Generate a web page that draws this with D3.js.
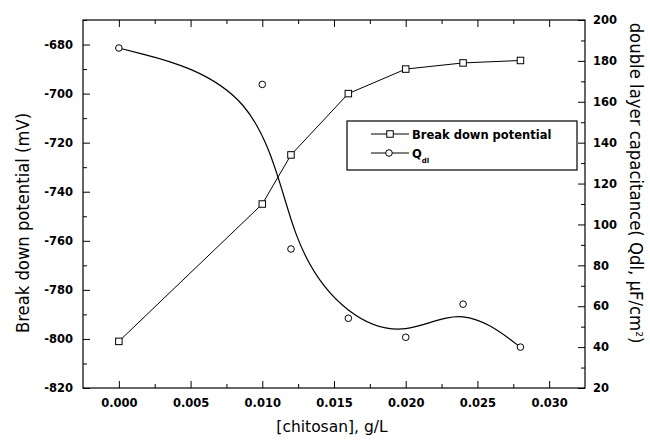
<!DOCTYPE html>
<html>
<head>
<meta charset="utf-8">
<script src="https://cdn.jsdelivr.net/npm/d3@7/dist/d3.min.js"></script>
<style>
  html, body { margin: 0; padding: 0; background: #fff; }
  #chart { width: 650px; height: 440px; }
  text { font-family: "DejaVu Sans", sans-serif; fill: #000; }
</style>
</head>
<body>
<div id="chart"></div>
<script>
// chitosan concentration vs break down potential / Qdl
const chitosan = [0.000, 0.010, 0.012, 0.016, 0.020, 0.024, 0.028];
const breakdown = [-801, -745, -725, -700, -690, -687.5, -686.5];
const qdl = [186.3, 168.5, 88, 54.1, 44.8, 61.0, 40.0];

const xTicks = [0.000, 0.005, 0.010, 0.015, 0.020, 0.025, 0.030];
const xMinor = [0.0025, 0.0075, 0.0125, 0.0175, 0.0225, 0.0275];
const yLeftTicks = [-820, -800, -780, -760, -740, -720, -700, -680];
const yLeftMinor = [-810, -790, -770, -750, -730, -710, -690, -670];
const yRightTicks = [20, 40, 60, 80, 100, 120, 140, 160, 180, 200];
const yRightMinor = [30, 50, 70, 90, 110, 130, 150, 170, 190];

const legendNames = ['Break down potential', 'Q'];

const W = 650, H = 440;
const m = { left: 83, right: 585, top: 20, bottom: 388 };

const svg = d3.select('#chart').append('svg')
  .attr('width', W).attr('height', H);

const x = d3.scaleLinear().domain([-0.0025, 0.0325]).range([m.left, m.right]);
const yL = d3.scaleLinear().domain([-820, -670]).range([m.bottom, m.top]);
const yR = d3.scaleLinear().domain([20, 200]).range([m.bottom, m.top]);

const tickFont = g => g.selectAll('text')
  .style('font-family', '"DejaVu Sans", sans-serif')
  .style('font-size', '11.5px').style('font-weight', 'bold').attr('fill', '#000');
const clean = g => { g.select('.domain').remove(); g.selectAll('line').attr('stroke', '#000').attr('stroke-width', 1); };

// bottom
svg.append('g').attr('transform', `translate(0,${m.bottom})`)
  .call(d3.axisBottom(x).tickValues(xTicks).tickSize(-7).tickPadding(11).tickFormat(d => d.toFixed(3)))
  .call(clean).call(tickFont);
svg.append('g').attr('transform', `translate(0,${m.bottom})`)
  .call(d3.axisBottom(x).tickValues(xMinor).tickSize(-4).tickFormat(''))
  .call(clean);
// top
svg.append('g').attr('transform', `translate(0,${m.top})`)
  .call(d3.axisTop(x).tickValues(xTicks).tickSize(-7).tickFormat(''))
  .call(clean);
svg.append('g').attr('transform', `translate(0,${m.top})`)
  .call(d3.axisTop(x).tickValues(xMinor).tickSize(-4).tickFormat(''))
  .call(clean);
// left
svg.append('g').attr('transform', `translate(${m.left},0)`)
  .call(d3.axisLeft(yL).tickValues(yLeftTicks).tickSize(-7).tickPadding(10).tickFormat(d => String(d)))
  .call(clean).call(tickFont);
svg.append('g').attr('transform', `translate(${m.left},0)`)
  .call(d3.axisLeft(yL).tickValues(yLeftMinor).tickSize(-4).tickFormat(''))
  .call(clean);
// right
svg.append('g').attr('transform', `translate(${m.right},0)`)
  .call(d3.axisRight(yR).tickValues(yRightTicks).tickSize(-7).tickPadding(8).tickFormat(d => String(d)))
  .call(clean).call(tickFont);
svg.append('g').attr('transform', `translate(${m.right},0)`)
  .call(d3.axisRight(yR).tickValues(yRightMinor).tickSize(-4).tickFormat(''))
  .call(clean);

// frame
svg.append('rect')
  .attr('x', m.left).attr('y', m.top)
  .attr('width', m.right - m.left).attr('height', m.bottom - m.top)
  .attr('fill', 'none').attr('stroke', '#000').attr('stroke-width', 1.2);

// lines
const bdData = chitosan.map((c, i) => [c, breakdown[i]]);
const qData = chitosan.map((c, i) => [c, qdl[i]]);

svg.append('path').datum(bdData)
  .attr('fill', 'none').attr('stroke', '#000').attr('stroke-width', 1)
  .attr('d', d3.line().x(d => x(d[0])).y(d => yL(d[1])));

svg.append('path').datum(qData)
  .attr('fill', 'none').attr('stroke', '#000').attr('stroke-width', 1.2)
  .attr('d', d3.line().curve(d3.curveBasis).x(d => x(d[0])).y(d => yR(d[1])));

const sq = 6.5;
svg.append('g').selectAll('rect').data(bdData).join('rect')
  .attr('x', d => x(d[0]) - sq / 2).attr('y', d => yL(d[1]) - sq / 2)
  .attr('width', sq).attr('height', sq)
  .attr('fill', '#fff').attr('stroke', '#000').attr('stroke-width', 1);

svg.append('g').selectAll('circle').data(qData).join('circle')
  .attr('cx', d => x(d[0])).attr('cy', d => yR(d[1])).attr('r', 3.3)
  .attr('fill', '#fff').attr('stroke', '#000').attr('stroke-width', 1);

// legend
const lg = svg.append('g');
lg.append('rect').attr('x', 347).attr('y', 121).attr('width', 230).attr('height', 49)
  .attr('fill', '#fff').attr('stroke', '#000').attr('stroke-width', 1.2);
[134, 153].forEach((ly, i) => {
  lg.append('line').attr('x1', 371).attr('x2', 409).attr('y1', ly).attr('y2', ly)
    .attr('stroke', '#000').attr('stroke-width', 1);
  if (i === 0) {
    lg.append('rect').attr('x', 390 - sq / 2).attr('y', ly - sq / 2).attr('width', sq).attr('height', sq)
      .attr('fill', '#fff').attr('stroke', '#000');
  } else {
    lg.append('circle').attr('cx', 389).attr('cy', ly).attr('r', 3.3)
      .attr('fill', '#fff').attr('stroke', '#000');
  }
  const t = lg.append('text').attr('x', 412).attr('y', ly + 4.5)
    .style('font-size', '11.5px').style('font-weight', 'bold').text(legendNames[i]);
  if (i === 1) t.append('tspan').attr('dy', 5).style('font-size', '7px').text('dl');
});

// axis titles
svg.append('text').attr('x', 332).attr('y', 432).attr('text-anchor', 'middle')
  .style('font-size', '15.5px').text('[chitosan], g/L');

svg.append('text').attr('transform', 'translate(29,223) rotate(-90) scale(1,1.12)')
  .attr('text-anchor', 'middle').style('font-size', '16.4px')
  .text('Break down potential (mV)');

const rt = svg.append('text').attr('transform', 'translate(630,183) rotate(90) scale(1,1.05)')
  .attr('text-anchor', 'middle').style('font-size', '16.5px');
rt.append('tspan').text('double layer capacitance( Qdl, \u00B5F/cm');
rt.append('tspan').attr('dy', -6).style('font-size', '9px').text('2');
rt.append('tspan').attr('dy', 6).text(')');
</script>
</body>
</html>
